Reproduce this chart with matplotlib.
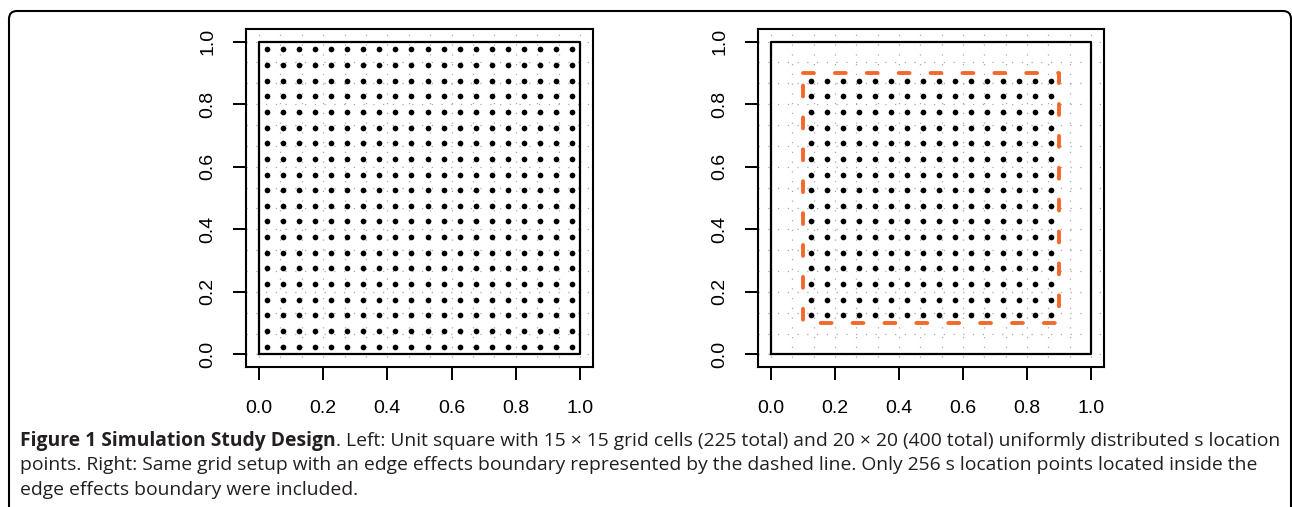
import numpy as np
import matplotlib
matplotlib.use("Agg")
import matplotlib.pyplot as plt
from matplotlib.patches import FancyBboxPatch
from matplotlib.transforms import IdentityTransform

# design of the simulation study
n_cells = 15          # 15 x 15 grid cells
n_points = 20         # 20 x 20 s location points
edge_lo, edge_hi = 0.1, 0.9   # edge effects boundary
tick_vals = [0.0, 0.2, 0.4, 0.6, 0.8, 1.0]
tick_labels = ["0.0", "0.2", "0.4", "0.6", "0.8", "1.0"]

caption_bold = "Figure 1 Simulation Study Design"
caption_lines = [
    ". Left: Unit square with 15 \u00d7 15 grid cells (225 total) and 20 \u00d7 20 (400 total) uniformly distributed s location",
    "points. Right: Same grid setup with an edge effects boundary represented by the dashed line. Only 256 s location points located inside the",
    "edge effects boundary were included.",
]

grid_lines = np.arange(n_cells + 1) / n_cells
pts = (np.arange(n_points) + 0.5) / n_points
px, py = np.meshgrid(pts, pts)
px, py = px.ravel(), py.ravel()

W, H = 1292, 507
fig = plt.figure(figsize=(W / 100, H / 100), dpi=100)
plt.rcParams["font.family"] = ["Liberation Sans", "DejaVu Sans"]

orange = "#F4692B"


def panel(ax, edge):
    ax.set_xlim(-0.04, 1.04)
    ax.set_ylim(-0.04, 1.04)
    for g in grid_lines:
        ax.axvline(g, color="#A8A8A8", lw=0.9, linestyle=(0, (1.0, 6.8)), zorder=1)
        ax.axhline(g, color="#A8A8A8", lw=0.9, linestyle=(0, (1.0, 6.8)), zorder=1)
    ax.plot([0, 1, 1, 0, 0], [0, 0, 1, 1, 0], color="black", lw=1.6, zorder=2)
    if edge:
        inside = (px > edge_lo) & (px < edge_hi) & (py > edge_lo) & (py < edge_hi)
        ax.plot(px[inside], py[inside], "o", color="black", ms=4.1, mew=0, zorder=3)
        ax.plot([edge_lo, edge_hi, edge_hi, edge_lo, edge_lo],
                [edge_hi, edge_hi, edge_lo, edge_lo, edge_hi],
                color=orange, lw=2.8, linestyle=(0, (2.8, 5.4)),
                solid_capstyle="round", dash_capstyle="round", zorder=4)
    else:
        ax.plot(px, py, "o", color="black", ms=4.1, mew=0, zorder=3)
    ax.set_xticks(tick_vals)
    ax.set_yticks(tick_vals)
    ax.set_xticklabels(tick_labels, fontsize=14)
    ax.set_yticklabels(tick_labels, fontsize=14, rotation=90, va="center")
    ax.tick_params(axis="x", length=9.5, width=1.4, pad=14)
    ax.tick_params(axis="y", length=9.5, width=1.4, pad=12)
    for s in ax.spines.values():
        s.set_linewidth(1.5)


ax1 = fig.add_axes([246 / W, 1 - 367 / H, 347 / W, 338 / H])
ax2 = fig.add_axes([758 / W, 1 - 367 / H, 346 / W, 338 / H])
panel(ax1, False)
panel(ax2, True)

# rounded frame around the figure
frame = FancyBboxPatch((9, -20), 1282, H - 11 + 20,
                       boxstyle="round,pad=0,rounding_size=8",
                       transform=IdentityTransform(), fill=False,
                       ec="black", lw=1.5, clip_on=False)
fig.patches.append(frame)

# caption
cap_font = ["Open Sans", "DejaVu Sans"]
cap_size = 13.9
y0 = H - 441
t = fig.text(20, y0, caption_bold, transform=IdentityTransform(), fontsize=cap_size,
             fontweight="bold", family=cap_font, va="center", ha="left", color="#231F20")
fig.canvas.draw()
bb = t.get_window_extent()
fig.text(bb.x1, y0, caption_lines[0], transform=IdentityTransform(), fontsize=cap_size,
         family=cap_font, va="center", ha="left", color="#231F20")
for i, line in enumerate(caption_lines[1:], start=1):
    fig.text(20, y0 - 24.5 * i, line, transform=IdentityTransform(), fontsize=cap_size,
             family=cap_font, va="center", ha="left", color="#231F20")

fig.savefig("out.png", dpi=100)
